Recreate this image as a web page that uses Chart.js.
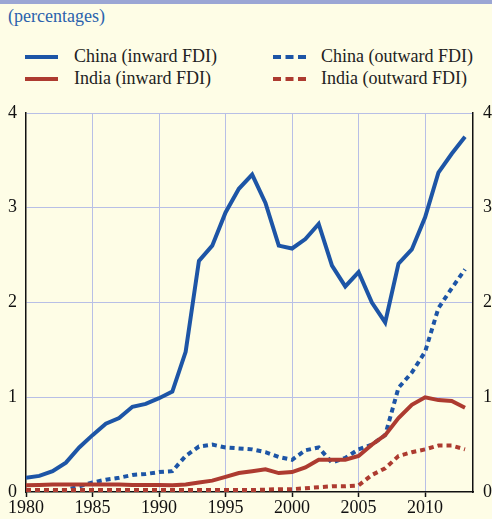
<!DOCTYPE html>
<html>
<head>
<meta charset="utf-8">
<script src="https://cdn.jsdelivr.net/npm/chart.js@4"></script>
<style>
    html, body { margin: 0; padding: 0; }
    body {
        width: 492px;
        height: 519px;
        background: #fefde6;
        position: relative;
        overflow: hidden;
        font-family: "Liberation Serif", "DejaVu Serif", serif;
    }
    #band { position: absolute; left: 0; top: 0; width: 492px; height: 4px; background: #9ba6d4; }
    #units { position: absolute; left: 8px; top: 6px; font-size: 18px; color: #2b62ad; }
    .legend-item { position: absolute; font-size: 18px; color: #222; line-height: 20px; }
    .swatch { position: absolute; width: 33px; height: 0; }
    .solid { border-top: 4px solid; }
    .dashed { border-top: 4px dashed; }
    #chart { position: absolute; left: 0; top: 0; }
</style>
</head>
<body>
<div id="band"></div>
<div id="units">(percentages)</div>

<div class="swatch solid" style="left:25px;top:55px;border-color:#1d55a6"></div>
<div class="legend-item" style="left:74px;top:46px">China (inward FDI)</div>
<div class="swatch solid" style="left:25px;top:77px;border-color:#ad3b30"></div>
<div class="legend-item" style="left:74px;top:68px">India (inward FDI)</div>
<div class="swatch dashed" style="left:273px;top:55px;border-color:#1d55a6"></div>
<div class="legend-item" style="left:321px;top:46px">China (outward FDI)</div>
<div class="swatch dashed" style="left:273px;top:77px;border-color:#ad3b30"></div>
<div class="legend-item" style="left:321px;top:68px">India (outward FDI)</div>

<canvas id="chart" width="492" height="519"></canvas>

<script>
const years = [1980, 1981, 1982, 1983, 1984, 1985, 1986, 1987, 1988, 1989,
    1990, 1991, 1992, 1993, 1994, 1995, 1996, 1997, 1998, 1999,
    2000, 2001, 2002, 2003, 2004, 2005, 2006, 2007, 2008, 2009,
    2010, 2011, 2012, 2013];

const chinaInward = [0.15, 0.17, 0.22, 0.31, 0.47, 0.60, 0.72, 0.78, 0.90, 0.93,
    0.99, 1.06, 1.48, 2.44, 2.60, 2.95, 3.20, 3.35, 3.05, 2.60,
    2.57, 2.67, 2.83, 2.39, 2.17, 2.32, 2.00, 1.79, 2.41, 2.56,
    2.90, 3.37, 3.57, 3.75];

const chinaOutward = [0.00, 0.00, 0.01, 0.02, 0.06, 0.10, 0.13, 0.15, 0.18, 0.19,
    0.21, 0.22, 0.38, 0.48, 0.50, 0.47, 0.46, 0.45, 0.42, 0.37,
    0.34, 0.44, 0.47, 0.31, 0.36, 0.45, 0.50, 0.60, 1.10, 1.26,
    1.48, 1.94, 2.15, 2.35];

const indiaInward = [0.07, 0.075, 0.08, 0.08, 0.08, 0.08, 0.08, 0.08, 0.075, 0.075,
    0.075, 0.07, 0.08, 0.10, 0.12, 0.16, 0.20, 0.22, 0.24, 0.20,
    0.21, 0.26, 0.34, 0.34, 0.34, 0.38, 0.50, 0.60, 0.78, 0.92,
    1.00, 0.97, 0.96, 0.89];

const indiaOutward = [0.02, 0.02, 0.02, 0.02, 0.02, 0.02, 0.02, 0.02, 0.02, 0.02,
    0.02, 0.02, 0.02, 0.02, 0.02, 0.02, 0.02, 0.02, 0.025, 0.03,
    0.03, 0.04, 0.05, 0.06, 0.06, 0.07, 0.18, 0.25, 0.38, 0.42,
    0.45, 0.49, 0.49, 0.45];

const yTicks = [0, 1, 2, 3, 4];

const BLUE = '#1d55a6';
const RED = '#ad3b30';
const GRID = '#b8bfe6';

function series(values) {
    return values.map((v, i) => ({ x: years[i], y: v }));
}

function lineSet(label, values, color, dashed) {
    return {
        label,
        data: series(values),
        borderColor: color,
        backgroundColor: color,
        borderWidth: 4,
        borderDash: dashed ? [5, 4] : [],
        pointRadius: 0,
        tension: 0,
        borderJoinStyle: 'miter',
        borderCapStyle: 'butt'
    };
}

const tickFont = { family: '"Liberation Serif", serif', size: 18 };

new Chart(document.getElementById('chart'), {
    type: 'line',
    data: {
        datasets: [
            lineSet('India (outward FDI)', indiaOutward, RED, true),
            lineSet('India (inward FDI)', indiaInward, RED, false),
            lineSet('China (outward FDI)', chinaOutward, BLUE, true),
            lineSet('China (inward FDI)', chinaInward, BLUE, false)
        ]
    },
    options: {
        responsive: false,
        animation: false,
        layout: { padding: { top: 113, left: 0, right: 0, bottom: 0 } },
        plugins: {
            legend: { display: false },
            tooltip: { enabled: false }
        },
        scales: {
            x: {
                type: 'linear',
                min: 1980,
                max: 2013.6,
                afterFit: scale => { scale.height = 27; },
                ticks: {
                    stepSize: 5,
                    includeBounds: false,
                    color: '#111',
                    font: tickFont,
                    padding: 0,
                    maxRotation: 0,
                    callback: v => String(v)
                },
                grid: {
                    color: ctx => ctx.tick && ctx.tick.value === 1980 ? 'rgba(0,0,0,0)' : GRID,
                    lineWidth: 1,
                    drawTicks: true,
                    tickLength: 5,
                    tickColor: '#111',
                    tickWidth: 1.5
                },
                border: { color: '#111', width: 1.5 }
            },
            y: {
                position: 'left',
                min: 0,
                max: 4,
                afterFit: scale => { scale.width = 26; },
                afterBuildTicks: scale => { scale.ticks = yTicks.map(v => ({ value: v })); },
                ticks: { color: '#111', font: tickFont, padding: 9 },
                grid: {
                    color: ctx => ctx.tick && ctx.tick.value === 0 ? 'rgba(0,0,0,0)' : GRID,
                    lineWidth: 1,
                    drawTicks: false
                },
                border: { color: '#111', width: 1.5 }
            },
            y2: {
                position: 'right',
                min: 0,
                max: 4,
                afterFit: scale => { scale.width = 19; },
                afterBuildTicks: scale => { scale.ticks = yTicks.map(v => ({ value: v })); },
                ticks: { color: '#111', font: tickFont, padding: 10 },
                grid: { drawOnChartArea: false, drawTicks: false },
                border: { color: '#111', width: 1.5 }
            }
        }
    }
});
</script>
</body>
</html>
